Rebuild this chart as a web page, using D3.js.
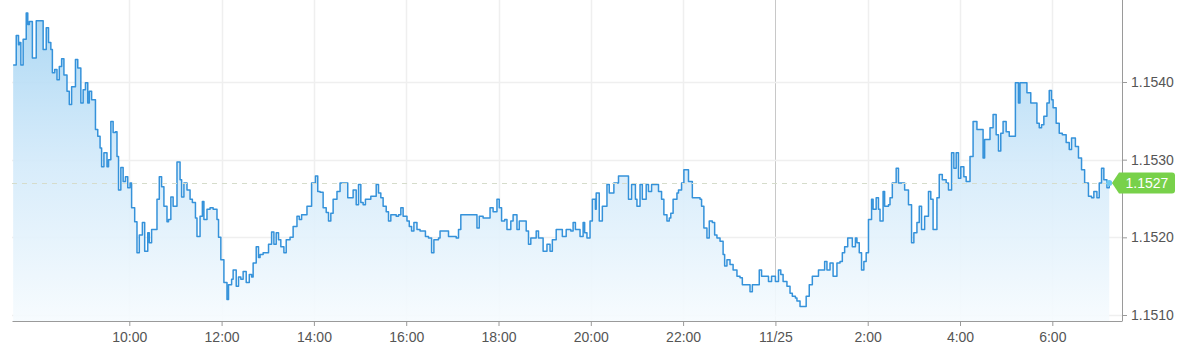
<!DOCTYPE html>
<html><head><meta charset="utf-8">
<script src="https://cdn.jsdelivr.net/npm/d3@7"></script>
<style>html,body{margin:0;padding:0;background:#fff;overflow:hidden}svg{display:block}</style>
</head><body><svg id="chart" width="1200" height="350"></svg>
<script>
const startDay = "2025-11-24";
const quotes = [
["07:29",1.15422],["07:33",1.15460],["07:36",1.15448],["07:37",1.15451],["07:39",1.15422],["07:42",1.15455],["07:46",1.15489],["07:48",1.15474],["07:50",1.15478],["07:54",1.15431],
["07:59",1.15479],["08:03",1.15479],["08:08",1.15442],["08:12",1.15470],["08:15",1.15451],["08:18",1.15442],["08:20",1.15412],["08:23",1.15416],["08:26",1.15403],["08:29",1.15420],
["08:32",1.15430],["08:35",1.15409],["08:39",1.15388],["08:42",1.15371],["08:45",1.15394],["08:50",1.15429],["08:53",1.15418],["08:56",1.15418],["08:57",1.15373],["09:00",1.15390],
["09:03",1.15399],["09:06",1.15373],["09:08",1.15388],["09:11",1.15377],["09:16",1.15339],["09:19",1.15330],["09:22",1.15315],["09:24",1.15291],["09:27",1.15309],["09:31",1.15291],
["09:33",1.15300],["09:36",1.15349],["09:39",1.15335],["09:42",1.15336],["09:44",1.15304],["09:46",1.15261],["09:49",1.15290],["09:52",1.15272],["09:55",1.15278],["09:58",1.15264],
["10:01",1.15270],["10:03",1.15238],["10:07",1.15220],["10:10",1.15180],["10:13",1.15203],["10:17",1.15219],["10:20",1.15182],["10:24",1.15206],["10:26",1.15193],["10:29",1.15210],
["10:32",1.15210],["10:36",1.15249],["10:39",1.15278],["10:42",1.15265],["10:45",1.15240],["10:49",1.15220],["10:51",1.15223],["10:54",1.15252],["10:57",1.15240],["11:02",1.15297],
["11:06",1.15274],["11:08",1.15252],["11:11",1.15270],["11:15",1.15261],["11:19",1.15249],["11:22",1.15245],["11:26",1.15225],["11:28",1.15201],["11:32",1.15227],["11:35",1.15246],
["11:37",1.15223],["11:41",1.15236],["11:45",1.15238],["11:49",1.15236],["11:54",1.15223],["11:56",1.15200],["11:59",1.15171],["12:03",1.15142],["12:07",1.15120],["12:09",1.15139],
["12:13",1.15146],["12:15",1.15158],["12:19",1.15137],["12:22",1.15149],["12:25",1.15146],["12:28",1.15156],["12:32",1.15142],["12:36",1.15152],["12:39",1.15149],["12:41",1.15167],
["12:45",1.15188],["12:48",1.15174],["12:50",1.15178],["12:54",1.15180],["12:58",1.15180],["13:01",1.15191],["13:05",1.15207],["13:08",1.15191],["13:11",1.15206],["13:14",1.15197],
["13:17",1.15188],["13:21",1.15180],["13:24",1.15197],["13:29",1.15200],["13:33",1.15214],["13:38",1.15227],["13:41",1.15223],["13:44",1.15229],["13:51",1.15240],["13:55",1.15240],
["13:57",1.15270],["14:02",1.15279],["14:05",1.15259],["14:08",1.15258],["14:12",1.15238],["14:16",1.15232],["14:19",1.15221],["14:22",1.15231],["14:25",1.15249],["14:30",1.15259],
["14:34",1.15270],["14:38",1.15270],["14:44",1.15251],["14:49",1.15251],["14:51",1.15261],["14:55",1.15242],["14:58",1.15268],["15:01",1.15245],["15:04",1.15242],["15:07",1.15249],
["15:11",1.15249],["15:14",1.15253],["15:17",1.15253],["15:21",1.15268],["15:24",1.15257],["15:27",1.15251],["15:30",1.15240],["15:34",1.15233],["15:37",1.15221],["15:40",1.15229],
["15:43",1.15229],["15:47",1.15227],["15:50",1.15229],["15:53",1.15238],["15:56",1.15227],["16:01",1.15221],["16:04",1.15214],["16:07",1.15208],["16:10",1.15219],["16:14",1.15210],
["16:18",1.15208],["16:22",1.15208],["16:25",1.15201],["16:29",1.15199],["16:33",1.15180],["16:36",1.15197],["16:42",1.15199],["16:44",1.15208],["16:50",1.15208],["16:55",1.15201],
["17:00",1.15201],["17:05",1.15199],["17:08",1.15210],["17:11",1.15229],["17:23",1.15229],["17:28",1.15229],["17:32",1.15212],["17:35",1.15227],["17:40",1.15225],["17:45",1.15225],
["17:49",1.15238],["17:53",1.15233],["17:58",1.15249],["18:01",1.15238],["18:04",1.15221],["18:08",1.15223],["18:11",1.15210],["18:16",1.15221],["18:19",1.15229],["18:24",1.15210],
["18:27",1.15221],["18:31",1.15221],["18:36",1.15208],["18:39",1.15191],["18:42",1.15199],["18:46",1.15199],["18:49",1.15208],["18:52",1.15199],["18:56",1.15199],["18:58",1.15182],
["19:03",1.15191],["19:07",1.15182],["19:10",1.15197],["19:15",1.15210],["19:19",1.15210],["19:23",1.15201],["19:28",1.15210],["19:34",1.15208],["19:37",1.15219],["19:40",1.15210],
["19:44",1.15210],["19:46",1.15201],["19:50",1.15219],["19:52",1.15206],["19:55",1.15199],["19:59",1.15221],["20:02",1.15249],["20:06",1.15236],["20:07",1.15257],["20:11",1.15221],
["20:15",1.15240],["20:21",1.15268],["20:24",1.15257],["20:28",1.15257],["20:30",1.15270],["20:36",1.15279],["20:47",1.15279],["20:49",1.15249],["20:53",1.15268],["20:58",1.15249],
["21:00",1.15240],["21:04",1.15268],["21:07",1.15249],["21:12",1.15268],["21:15",1.15259],["21:19",1.15268],["21:26",1.15268],["21:28",1.15259],["21:32",1.15249],["21:35",1.15229],
["21:39",1.15221],["21:42",1.15225],["21:44",1.15231],["21:47",1.15249],["21:52",1.15257],["21:54",1.15261],["21:58",1.15270],["22:01",1.15287],["22:05",1.15287],["22:07",1.15272],
["22:10",1.15272],["22:12",1.15251],["22:18",1.15251],["22:22",1.15249],["22:24",1.15240],["22:27",1.15212],["22:31",1.15199],["22:34",1.15221],["22:38",1.15219],["22:41",1.15203],
["22:44",1.15199],["22:48",1.15195],["22:52",1.15178],["22:54",1.15163],["22:57",1.15171],["23:01",1.15165],["23:05",1.15158],["23:10",1.15150],["23:14",1.15148],["23:17",1.15139],
["23:23",1.15139],["23:27",1.15130],["23:30",1.15139],["23:36",1.15139],["23:39",1.15158],["23:42",1.15150],["23:46",1.15150],["23:51",1.15143],["23:55",1.15150],["00:00",1.15143],
["00:04",1.15158],["00:07",1.15152],["00:10",1.15143],["00:15",1.15137],["00:19",1.15128],["00:22",1.15124],["00:26",1.15122],["00:28",1.15118],["00:32",1.15111],["00:35",1.15111],
["00:40",1.15124],["00:44",1.15139],["00:48",1.15150],["00:52",1.15150],["00:56",1.15158],["01:00",1.15158],["01:04",1.15169],["01:07",1.15158],["01:11",1.15167],["01:15",1.15150],
["01:20",1.15167],["01:24",1.15169],["01:27",1.15180],["01:30",1.15188],["01:34",1.15199],["01:37",1.15199],["01:40",1.15188],["01:44",1.15199],["01:46",1.15193],["01:49",1.15180],
["01:52",1.15158],["01:55",1.15169],["01:58",1.15180],["02:01",1.15223],["02:05",1.15249],["02:07",1.15236],["02:11",1.15251],["02:14",1.15236],["02:16",1.15221],["02:20",1.15259],
["02:22",1.15240],["02:27",1.15242],["02:29",1.15251],["02:32",1.15270],["02:37",1.15289],["02:40",1.15270],["02:45",1.15270],["02:48",1.15261],["02:53",1.15242],["02:57",1.15193],
["03:00",1.15206],["03:04",1.15219],["03:07",1.15240],["03:10",1.15210],["03:14",1.15227],["03:19",1.15259],["03:22",1.15249],["03:25",1.15210],["03:30",1.15251],["03:33",1.15281],
["03:37",1.15274],["03:42",1.15270],["03:45",1.15261],["03:49",1.15309],["03:52",1.15289],["03:55",1.15309],["03:58",1.15276],["04:01",1.15291],["04:05",1.15278],["04:08",1.15272],
["04:13",1.15304],["04:17",1.15349],["04:22",1.15339],["04:26",1.15339],["04:30",1.15302],["04:32",1.15326],["04:36",1.15326],["04:39",1.15341],["04:43",1.15358],["04:47",1.15332],
["04:50",1.15311],["04:53",1.15334],["04:56",1.15349],["05:00",1.15336],["05:04",1.15330],["05:08",1.15330],["05:12",1.15399],["05:16",1.15373],["05:18",1.15399],["05:22",1.15399],
["05:27",1.15386],["05:32",1.15373],["05:35",1.15373],["05:40",1.15347],["05:43",1.15341],["05:46",1.15345],["05:49",1.15356],["05:53",1.15373],["05:56",1.15389],["05:59",1.15377],
["06:01",1.15367],["06:05",1.15347],["06:09",1.15334],["06:13",1.15332],["06:18",1.15322],["06:22",1.15313],["06:25",1.15328],["06:30",1.15317],["06:34",1.15302],["06:38",1.15287],
["06:42",1.15270],["06:47",1.15253],["06:51",1.15251],["06:54",1.15259],["06:58",1.15251],["07:01",1.15270],["07:04",1.15289],["07:07",1.15274],["07:11",1.15264],["07:14",1.15270]
];
const yTicks = [1.1510, 1.1520, 1.1530, 1.1540];
const xTickTimes = ["2025-11-24 10:00","2025-11-24 12:00","2025-11-24 14:00","2025-11-24 16:00","2025-11-24 18:00","2025-11-24 20:00","2025-11-24 22:00","2025-11-25 00:00","2025-11-25 02:00","2025-11-25 04:00","2025-11-25 06:00"];
const xTickLabels = ["10:00","12:00","14:00","16:00","18:00","20:00","22:00","11/25","2:00","4:00","6:00"];
const xDomain = ["2025-11-24 07:27:30","2025-11-25 07:30:36"];
const lastPrice = 1.1527;

const parseFull = d3.timeParse("%Y-%m-%d %H:%M:%S");
const parseMin = d3.timeParse("%Y-%m-%d %H:%M");

// build dated series (roll to next day when the clock wraps)
let day = parseMin(startDay + " 00:00");
let prevMin = -1;
const data = quotes.map(([t, v]) => {
  const [h, m] = t.split(":").map(Number);
  const mins = h * 60 + m;
  if (mins < prevMin) day = d3.timeDay.offset(day, 1);
  prevMin = mins;
  return { date: d3.timeMinute.offset(day, mins), value: v };
});

const L = 12, R = 1122, T = 0, B = 321;
const x = d3.scaleTime().domain(xDomain.map(parseFull)).range([L, R]);
const y = d3.scaleLinear().domain([1.1510, 1.1540]).range([315, 82]);

const svg = d3.select("#chart");
const font = "'Liberation Sans', Arial, sans-serif";

const defs = svg.append("defs");
const grad = defs.append("linearGradient").attr("id", "fillGrad")
  .attr("gradientUnits", "userSpaceOnUse").attr("x1", 0).attr("x2", 0).attr("y1", 0).attr("y2", B);
grad.append("stop").attr("offset", 0).attr("stop-color", "#a3d3f2");
grad.append("stop").attr("offset", 0.5).attr("stop-color", "#d3eafa");
grad.append("stop").attr("offset", 1).attr("stop-color", "#f6fbfe");

// grid
const tickDates = xTickTimes.map(parseMin);
svg.append("g").selectAll("line").data(tickDates).join("line")
  .attr("x1", d => Math.round(x(d)) + 0.5).attr("x2", d => Math.round(x(d)) + 0.5)
  .attr("y1", T).attr("y2", B)
  .attr("stroke", (d, i) => xTickLabels[i].includes("/") ? "#c8c8c8" : "#efefef")
  .attr("stroke-width", (d, i) => xTickLabels[i].includes("/") ? 1 : 1.5);
svg.append("g").selectAll("line").data(yTicks).join("line")
  .attr("x1", L).attr("x2", R)
  .attr("y1", d => Math.round(y(d)) + 0.5).attr("y2", d => Math.round(y(d)) + 0.5)
  .attr("stroke", "#efefef").attr("stroke-width", 1.5);

// area + line (tick data drawn as steps)
const area = d3.area().curve(d3.curveStepAfter).x(d => x(d.date)).y0(B).y1(d => y(d.value));
svg.append("path").datum(data).attr("d", area).attr("fill", "url(#fillGrad)").attr("opacity", 0.92);
const line = d3.line().curve(d3.curveStepAfter).x(d => x(d.date)).y(d => y(d.value));
svg.append("path").datum(data).attr("d", line)
  .attr("fill", "none").attr("stroke", "#3592da").attr("stroke-width", 1.5).attr("stroke-linejoin", "round");

// current price dashed line
svg.append("line").attr("x1", L).attr("x2", R)
  .attr("y1", Math.round(y(lastPrice)) + 0.5).attr("y2", Math.round(y(lastPrice)) + 0.5)
  .attr("stroke", "#d5dccb").attr("stroke-width", 1.2).attr("stroke-dasharray", "5,5");

// axes
const xAxis = d3.axisBottom(x).tickValues(tickDates).tickFormat((d, i) => xTickLabels[i]).tickSize(5).tickSizeOuter(0);
const gx = svg.append("g").attr("transform", `translate(0,${B})`).call(xAxis);
gx.select(".domain").attr("stroke", "#9a9a9a");
gx.selectAll(".tick line").attr("stroke", "#9a9a9a");
gx.selectAll(".tick text").attr("font-family", font).attr("font-size", 14).attr("fill", "#555").attr("dy", "0.95em");

const yAxis = d3.axisRight(y).tickValues(yTicks).tickFormat(d3.format(".4f")).tickSize(5).tickSizeOuter(0);
const gy = svg.append("g").attr("transform", `translate(${R},0)`).call(yAxis);
gy.select(".domain").remove();
gy.append("line").attr("x1", 0.5).attr("x2", 0.5).attr("y1", T).attr("y2", B).attr("stroke", "#9a9a9a");
gy.selectAll(".tick line").attr("stroke", "#9a9a9a");
gy.selectAll(".tick text").attr("font-family", font).attr("font-size", 14).attr("fill", "#555").attr("x", 9);

// last point marker + price tag
const last = data[data.length - 1];
svg.append("circle").attr("cx", x(last.date)).attr("cy", y(last.value)).attr("r", 3).attr("fill", "#6cc8f2");
const ly = y(lastPrice);
const tagX = 1112, tagW = 63, tagH = 21;
svg.append("path")
  .attr("d", `M${tagX},${ly} L${tagX + 7},${ly - tagH / 2} L${tagX + tagW - 3},${ly - tagH / 2} Q${tagX + tagW},${ly - tagH / 2} ${tagX + tagW},${ly - tagH / 2 + 3} L${tagX + tagW},${ly + tagH / 2 - 3} Q${tagX + tagW},${ly + tagH / 2} ${tagX + tagW - 3},${ly + tagH / 2} L${tagX + 7},${ly + tagH / 2} Z`)
  .attr("fill", "#78d14a");
svg.append("text").attr("x", tagX + 7 + (tagW - 7) / 2).attr("y", ly).attr("dy", "0.36em")
  .attr("text-anchor", "middle").attr("font-family", font).attr("font-size", 14).attr("fill", "#fff")
  .text(d3.format(".4f")(lastPrice));
</script></body></html>
